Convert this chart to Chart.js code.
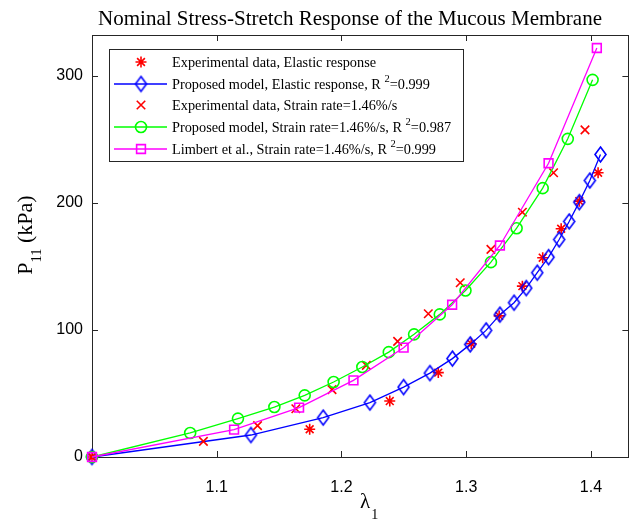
<!DOCTYPE html>
<html>
<head>
<meta charset="utf-8">
<script src="https://cdn.jsdelivr.net/npm/chart.js@4"></script>
<style>
  html, body { margin: 0; padding: 0; background: #fff; }
  #wrap { width: 637px; height: 524px; }
</style>
</head>
<body>
<div id="wrap"><canvas id="stressChart" width="637" height="524"></canvas></div>
<script>
// stretch (lambda_1) and nominal stress P_11 (kPa)
const elasticStretch = [1.0, 1.1745, 1.2387, 1.2776, 1.304, 1.3264, 1.345, 1.3613, 1.3761, 1.3906, 1.4057];
const elasticStress  = [0, 21.8, 44.0, 66.4, 89.1, 111.0, 134.4, 156.8, 179.6, 201.3, 223.6];

const modelElasticStretch = [1.0, 1.1274, 1.1853, 1.2228, 1.2498, 1.2709, 1.2889, 1.3032, 1.3159, 1.327,
  1.3383, 1.3481, 1.3569, 1.366, 1.3745, 1.3825, 1.3906, 1.3991, 1.4076];
const modelElasticStress = [0, 17.3, 31.0, 42.8, 55.0, 66.0, 77.4, 88.6, 99.6, 112.0,
  121.4, 132.9, 145.0, 157.2, 171.1, 185.3, 200.5, 217.5, 238.0];

const rateStretch = [1.0, 1.0893, 1.1327, 1.1634, 1.1924, 1.2199, 1.245, 1.2696, 1.2952, 1.3198, 1.345, 1.37, 1.3952];
const rateStress  = [0, 12.3, 24.7, 38.0, 53.0, 72.1, 91.0, 112.7, 137.1, 163.3, 192.6, 223.6, 257.4];

const modelRateStretch = [1.0, 1.0787, 1.117, 1.1462, 1.1705, 1.1937, 1.2167, 1.2379, 1.2582, 1.2788,
  1.2994, 1.3198, 1.3404, 1.3613, 1.3814, 1.4013];
const modelRateStress = [0, 18.9, 30.2, 39.3, 48.5, 59.0, 70.8, 82.5, 96.5, 112.2,
  131.0, 153.3, 180.0, 211.5, 250.3, 296.7];

const limbertStretch = [1.0, 1.1139, 1.166, 1.2096, 1.2498, 1.2887, 1.327, 1.366, 1.4047];
const limbertStress  = [0, 21.5, 38.8, 60.3, 86.0, 119.8, 166.4, 231.1, 321.8];

const xTicks = [1.1, 1.2, 1.3, 1.4];
const yTicks = [0, 100, 200, 300];

// legend text: [before superscript, superscript, after]
const legendLabels = [
  ['Experimental data, Elastic response', '', ''],
  ['Proposed model, Elastic response, R ', '2', '=0.999'],
  ['Experimental data, Strain rate=1.46%/s', '', ''],
  ['Proposed model, Strain rate=1.46%/s, R ', '2', '=0.987'],
  ['Limbert et al., Strain rate=1.46%/s, R ', '2', '=0.999']
];

const titleText = 'Nominal Stress-Stretch Response of the Mucous Membrane';
const SERIF = '"Liberation Serif", "DejaVu Serif", serif';
const SANS = '"Liberation Sans", Arial, sans-serif';
const AXIS_COLOR = '#262626';

const toPoints = (xs, ys) => xs.map((v, i) => ({ x: v, y: ys[i] }));

// tall open diamond marker
function diamondMarker(color, w, h, lw) {
  const c = document.createElement('canvas');
  c.width = w + 4; c.height = h + 4;
  const g = c.getContext('2d');
  g.strokeStyle = color;
  g.lineWidth = lw;
  const cx = c.width / 2, cy = c.height / 2;
  g.beginPath();
  g.moveTo(cx, cy - h / 2);
  g.lineTo(cx + w / 2, cy);
  g.lineTo(cx, cy + h / 2);
  g.lineTo(cx - w / 2, cy);
  g.closePath();
  g.stroke();
  return c;
}

function series(label, xs, ys, color, style, radius, withLine, order) {
  return {
    label,
    data: toPoints(xs, ys),
    showLine: withLine,
    borderColor: color,
    borderWidth: 1.3,
    backgroundColor: 'rgba(0,0,0,0)',
    pointStyle: style,
    pointRadius: radius,
    pointHoverRadius: radius,
    pointBorderColor: color,
    pointBackgroundColor: 'rgba(0,0,0,0)',
    pointBorderWidth: 1.6,
    tension: 0,
    clip: false,
    order
  };
}

const datasets = [
  series(legendLabels[0].join(''), elasticStretch, elasticStress, '#ff0000', 'star', 5.5, false, 5),
  series(legendLabels[1].join(''), modelElasticStretch, modelElasticStress, '#0000ff',
    diamondMarker('#0000ff', 11, 15, 1.6), 7, true, 4),
  series(legendLabels[2].join(''), rateStretch, rateStress, '#ff0000', 'crossRot', 6, false, 3),
  series(legendLabels[3].join(''), modelRateStretch, modelRateStress, '#00ff00', 'circle', 5.5, true, 2),
  series(legendLabels[4].join(''), limbertStretch, limbertStress, '#ff00ff', 'rect', 6.2, true, 1)
];

// box with inward ticks on all four sides
const framePlugin = {
  id: 'frame',
  beforeDatasetsDraw(chart) {
    const { ctx, chartArea: a, scales: { x, y } } = chart;
    ctx.save();
    ctx.strokeStyle = AXIS_COLOR;
    ctx.lineWidth = 1;
    ctx.strokeRect(Math.round(a.left) + 0.5, Math.round(a.top) + 0.5,
      Math.round(a.width), Math.round(a.height));
    ctx.beginPath();
    xTicks.forEach(v => {
      const px = Math.round(x.getPixelForValue(v)) + 0.5;
      ctx.moveTo(px, a.bottom); ctx.lineTo(px, a.bottom - 6);
      ctx.moveTo(px, a.top); ctx.lineTo(px, a.top + 6);
    });
    yTicks.forEach(v => {
      const py = Math.round(y.getPixelForValue(v)) + 0.5;
      ctx.moveTo(a.left, py); ctx.lineTo(a.left + 6, py);
      ctx.moveTo(a.right, py); ctx.lineTo(a.right - 6, py);
    });
    ctx.stroke();
    ctx.restore();
  }
};

function drawMarker(ctx, ds, px, py) {
  ctx.save();
  if (ds.pointStyle instanceof HTMLCanvasElement) {
    const img = ds.pointStyle;
    ctx.drawImage(img, px - img.width / 2, py - img.height / 2);
  } else {
    ctx.strokeStyle = ds.pointBorderColor;
    ctx.fillStyle = 'rgba(0,0,0,0)';
    ctx.lineWidth = ds.pointBorderWidth;
    Chart.helpers.drawPoint(ctx, {
      pointStyle: ds.pointStyle, radius: ds.pointRadius, rotation: 0, borderWidth: ds.pointBorderWidth
    }, px, py);
  }
  ctx.restore();
}

// title, axis labels with sub/superscripts, and the boxed legend
const textPlugin = {
  id: 'texts',
  afterDraw(chart) {
    const { ctx } = chart;
    ctx.save();
    ctx.fillStyle = '#000';
    ctx.textBaseline = 'alphabetic';

    // title
    ctx.font = '21px ' + SERIF;
    ctx.textAlign = 'center';
    ctx.fillText(titleText, 350, 25);

    // x axis label: lambda_1
    ctx.textAlign = 'left';
    ctx.font = '21px ' + SERIF;
    const lw = ctx.measureText('λ').width;
    ctx.fillText('λ', 360, 508);
    ctx.font = '14px ' + SERIF;
    ctx.fillText('1', 360 + lw + 1, 519);

    // y axis label: P_11 (kPa)
    ctx.translate(32, 235);
    ctx.rotate(-Math.PI / 2);
    ctx.font = '22px ' + SERIF;
    const pW = ctx.measureText('P').width;
    const restW = ctx.measureText(' (kPa)').width;
    ctx.font = '14.5px ' + SERIF;
    const subW = ctx.measureText('11').width;
    let cx = -(pW + subW + restW) / 2;
    ctx.font = '22px ' + SERIF;
    ctx.fillText('P', cx, 0);
    cx += pW;
    ctx.font = '14.5px ' + SERIF;
    ctx.fillText('11', cx, 9);
    cx += subW;
    ctx.font = '22px ' + SERIF;
    ctx.fillText(' (kPa)', cx, 0);
    ctx.setTransform(1, 0, 0, 1, 0, 0);

    // legend
    const box = { left: 109, top: 49, right: 463, bottom: 161 };
    ctx.fillStyle = '#fff';
    ctx.fillRect(box.left, box.top, box.right - box.left, box.bottom - box.top);
    ctx.strokeStyle = AXIS_COLOR;
    ctx.lineWidth = 1;
    ctx.strokeRect(box.left + 0.5, box.top + 0.5, box.right - box.left, box.bottom - box.top);

    const rowY = [62, 84, 105, 127, 149];
    const lineX0 = 114, lineX1 = 167, markX = 141, textX = 172;
    chart.data.datasets.forEach((ds, i) => {
      const ry = rowY[i];
      if (ds.showLine) {
        ctx.beginPath();
        ctx.strokeStyle = ds.borderColor;
        ctx.lineWidth = ds.borderWidth;
        ctx.moveTo(lineX0, ry); ctx.lineTo(lineX1, ry);
        ctx.stroke();
      }
      drawMarker(ctx, ds, markX, ry);

      const [pre, sup, post] = legendLabels[i];
      ctx.fillStyle = '#000';
      ctx.font = '14.3px ' + SERIF;
      let tx = textX;
      const base = ry + 5;
      ctx.fillText(pre, tx, base);
      tx += ctx.measureText(pre).width;
      if (sup) {
        ctx.font = '10.5px ' + SERIF;
        ctx.fillText(sup, tx, base - 7);
        tx += ctx.measureText(sup).width;
        ctx.font = '14.3px ' + SERIF;
        ctx.fillText(post, tx, base);
      }
    });
    ctx.restore();
  }
};

new Chart(document.getElementById('stressChart'), {
  type: 'scatter',
  data: { datasets },
  options: {
    responsive: false,
    animation: false,
    events: [],
    layout: { padding: { left: 0, top: 35, right: 3, bottom: 0 } },
    plugins: {
      legend: { display: false },
      tooltip: { enabled: false },
      title: { display: false }
    },
    scales: {
      x: {
        type: 'linear',
        min: 1.0,
        max: 1.43,
        grid: { display: false },
        border: { display: false },
        afterBuildTicks: s => { s.ticks = xTicks.map(v => ({ value: v })); },
        afterFit: s => { s.height = 67; },
        ticks: {
          color: '#000',
          font: { family: SANS, size: 16 },
          padding: 13,
          maxRotation: 0,
          callback: v => v.toFixed(1)
        }
      },
      y: {
        type: 'linear',
        min: 0,
        max: 332,
        grid: { display: false },
        border: { display: false },
        afterBuildTicks: s => { s.ticks = yTicks.map(v => ({ value: v })); },
        afterFit: s => { s.width = 92; },
        ticks: {
          color: '#000',
          font: { family: SANS, size: 16 },
          padding: 1,
          callback: v => String(v)
        }
      }
    }
  },
  plugins: [framePlugin, textPlugin]
});
</script>
</body>
</html>
